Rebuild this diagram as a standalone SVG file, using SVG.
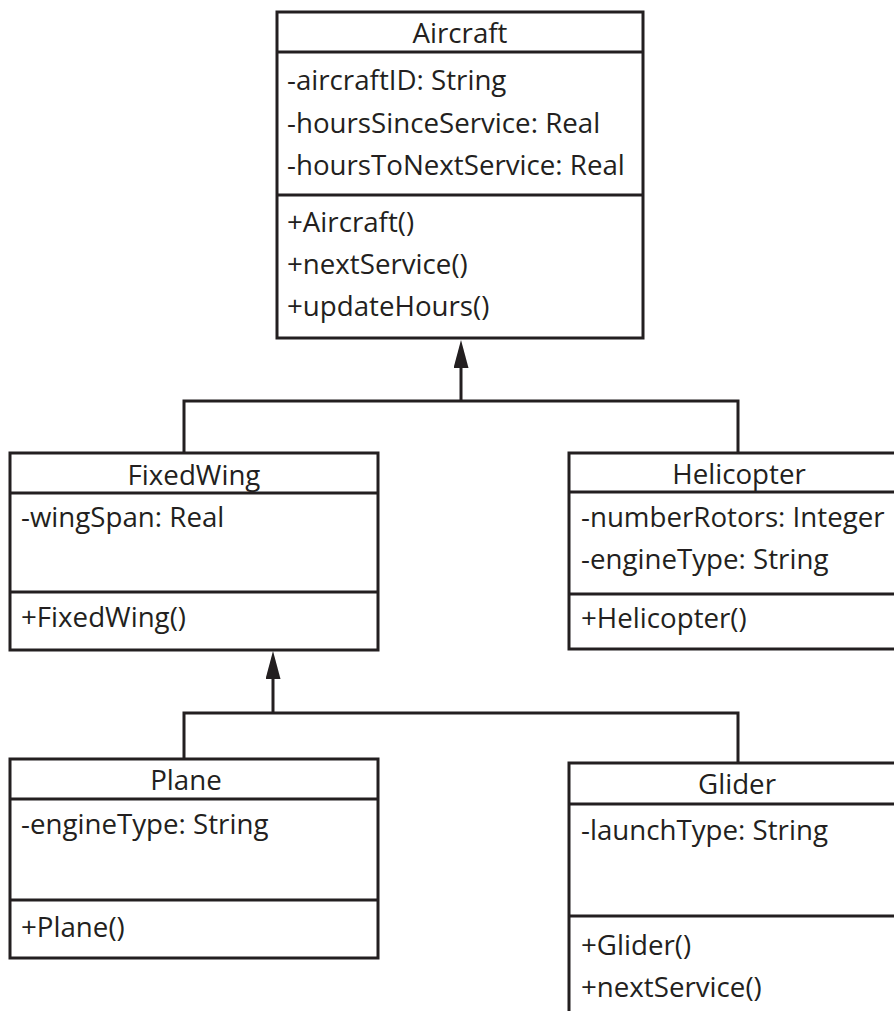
<svg xmlns="http://www.w3.org/2000/svg" width="894" height="1011" viewBox="0 0 894 1011">
<style>
.box{fill:#ffffff;stroke:#231f20;stroke-width:3}
.div{stroke:#231f20;stroke-width:3;fill:none}
.t{font-family:"Open Sans","Noto Sans","DejaVu Sans",sans-serif;font-size:27.7px;fill:#231f20}
.c{text-anchor:middle}
.conn{stroke:#231f20;stroke-width:3;fill:none}
</style>
<defs>
<marker id="tri" viewBox="0 0 28 15" refX="0" refY="7.5" markerUnits="userSpaceOnUse" markerWidth="28" markerHeight="15" orient="auto">
<path d="M0,0 L28,7.5 L0,15 Z" fill="#231f20"/>
</marker>
</defs>
<rect width="894" height="1011" fill="#ffffff"/>
<g id="connectors">
<path class="conn" d="M184,453 V401 H738 V453" />
<path class="conn" d="M461,401 V368" marker-end="url(#tri)"/>
<path class="conn" d="M184,759 V713 H738 V763" />
<path class="conn" d="M273,713 V679" marker-end="url(#tri)"/>
</g>
<g id="aircraft">
<rect class="box" x="277" y="12" width="366" height="326"/>
<line class="div" x1="277" y1="52" x2="643" y2="52"/>
<line class="div" x1="277" y1="195" x2="643" y2="195"/>
<text class="t c" x="460" y="43">Aircraft</text>
<text class="t" x="287" y="90">-aircraftID: String</text>
<text class="t" x="287" y="132.5">-hoursSinceService: Real</text>
<text class="t" x="287" y="175">-hoursToNextService: Real</text>
<text class="t" x="287" y="232">+Aircraft()</text>
<text class="t" x="287" y="274">+nextService()</text>
<text class="t" x="287" y="316">+updateHours()</text>
</g>
<g id="fixedwing">
<rect class="box" x="10" y="453" width="368" height="197"/>
<line class="div" x1="10" y1="493" x2="378" y2="493"/>
<line class="div" x1="10" y1="592" x2="378" y2="592"/>
<text class="t c" x="194" y="485">FixedWing</text>
<text class="t" x="21" y="527">-wingSpan: Real</text>
<text class="t" x="21" y="627">+FixedWing()</text>
</g>
<g id="helicopter">
<rect class="box" x="569" y="453" width="340" height="196"/>
<line class="div" x1="569" y1="492" x2="909" y2="492"/>
<line class="div" x1="569" y1="594" x2="909" y2="594"/>
<text class="t c" x="739" y="484">Helicopter</text>
<text class="t" x="581" y="527">-numberRotors: Integer</text>
<text class="t" x="581" y="569">-engineType: String</text>
<text class="t" x="581" y="628">+Helicopter()</text>
</g>
<g id="plane">
<rect class="box" x="10" y="759" width="368" height="199"/>
<line class="div" x1="10" y1="799" x2="378" y2="799"/>
<line class="div" x1="10" y1="900" x2="378" y2="900"/>
<text class="t c" x="186" y="790">Plane</text>
<text class="t" x="21" y="834">-engineType: String</text>
<text class="t" x="21" y="937">+Plane()</text>
</g>
<g id="glider">
<rect class="box" x="569" y="763" width="340" height="270"/>
<line class="div" x1="569" y1="804" x2="909" y2="804"/>
<line class="div" x1="569" y1="916" x2="909" y2="916"/>
<text class="t c" x="737" y="794">Glider</text>
<text class="t" x="581" y="840">-launchType: String</text>
<text class="t" x="581" y="955">+Glider()</text>
<text class="t" x="581" y="997">+nextService()</text>
</g>
</svg>
